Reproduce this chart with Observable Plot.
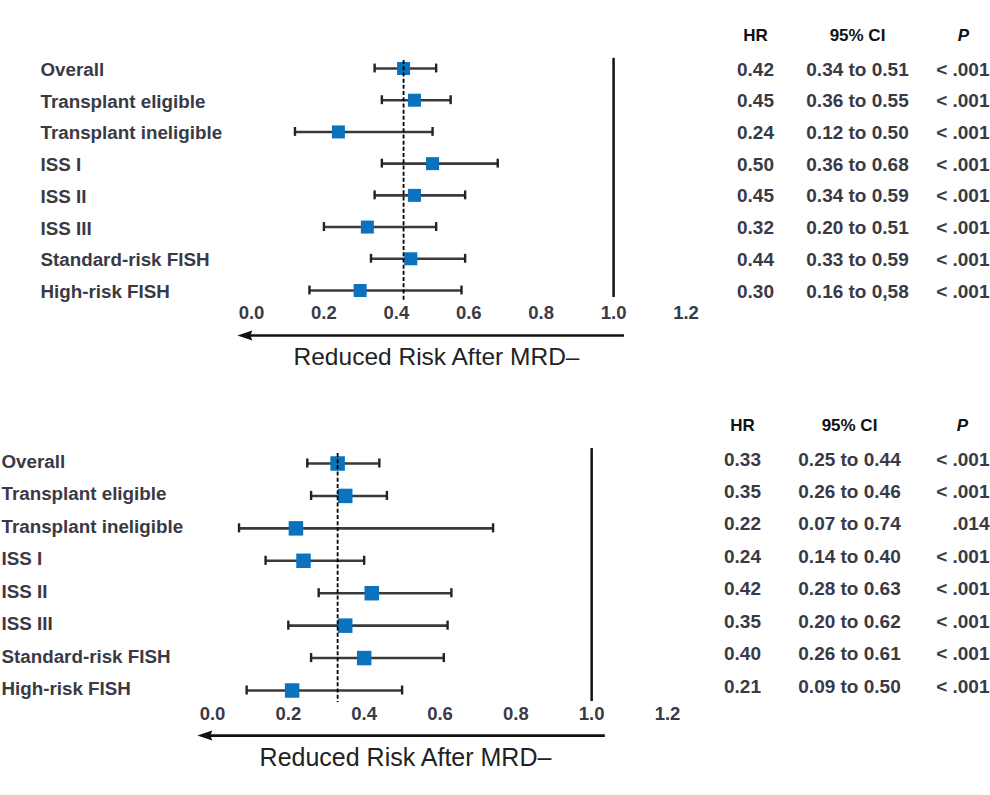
<!DOCTYPE html>
<html>
<head>
<meta charset="utf-8">
<script src="https://cdn.jsdelivr.net/npm/d3@7"></script>
<script src="https://cdn.jsdelivr.net/npm/@observablehq/plot@0.6"></script>
<style>
  html, body { margin: 0; padding: 0; background: #fff; width: 990px; height: 795px; overflow: hidden; }
  #wrap { position: relative; width: 990px; height: 795px; }
  #wrap > svg { position: absolute; left: 0; }
</style>
</head>
<body>
<div id="wrap"></div>
<script>
// ---------- DATA ----------
const categories = ["Overall", "Transplant eligible", "Transplant ineligible", "ISS I", "ISS II", "ISS III", "Standard-risk FISH", "High-risk FISH"];
const xTicks = [0.0, 0.2, 0.4, 0.6, 0.8, 1.0, 1.2];
const tableHeaders = ["HR", "95% CI", "P"];
const axisTitle = "Reduced Risk After MRD\u2013";

// Panel 1 (top)
const hrTop = [0.42, 0.45, 0.24, 0.50, 0.45, 0.32, 0.44, 0.30];
const loTop = [0.34, 0.36, 0.12, 0.36, 0.34, 0.20, 0.33, 0.16];
const hiTop = [0.51, 0.55, 0.50, 0.68, 0.59, 0.51, 0.59, 0.58];
const ciTop = ["0.34 to 0.51", "0.36 to 0.55", "0.12 to 0.50", "0.36 to 0.68", "0.34 to 0.59", "0.20 to 0.51", "0.33 to 0.59", "0.16 to 0,58"];
const pTop = ["< .001", "< .001", "< .001", "< .001", "< .001", "< .001", "< .001", "< .001"];
const overallTop = 0.42;

// Panel 2 (bottom)
const hrBot = [0.33, 0.35, 0.22, 0.24, 0.42, 0.35, 0.40, 0.21];
const loBot = [0.25, 0.26, 0.07, 0.14, 0.28, 0.20, 0.26, 0.09];
const hiBot = [0.44, 0.46, 0.74, 0.40, 0.63, 0.62, 0.61, 0.50];
const ciBot = ["0.25 to 0.44", "0.26 to 0.46", "0.07 to 0.74", "0.14 to 0.40", "0.28 to 0.63", "0.20 to 0.62", "0.26 to 0.61", "0.09 to 0.50"];
const pBot = ["< .001", "< .001", ".014", "< .001", "< .001", "< .001", "< .001", "< .001"];
const overallBot = 0.33;

// ---------- LAYOUT ----------
const FONT = "'Liberation Sans', Arial, Helvetica, sans-serif";
const TEXT = "#3a3a46";
const BLUE = "#0b73bd";

// filled left-pointing arrowhead, tip at the dot position
const arrowHead = {
  draw(context) {
    context.moveTo(0, 0);
    context.lineTo(15, -5);
    context.lineTo(13, 0);
    context.lineTo(15, 5);
    context.closePath();
  }
};

function forest(cfg) {
  const rows = categories.map((label, i) => ({
    i, label, hr: cfg.hr[i], lo: cfg.lo[i], hi: cfg.hi[i],
    hrText: d3.format(".2f")(cfg.hr[i]), ci: cfg.ci[i], p: cfg.p[i]
  }));
  const cap = cfg.cap;
  return Plot.plot({
    width: 990,
    height: cfg.height,
    marginTop: 0,
    marginRight: 0,
    marginBottom: cfg.marginBottom,
    marginLeft: cfg.marginLeft,
    style: { background: "transparent", fontFamily: FONT, color: TEXT, overflow: "visible" },
    x: { domain: [0, 1.2], range: cfg.xRange },
    y: { domain: [0, 7], range: cfg.yRange },
    marks: [
      Plot.ruleX([1], { y1: cfg.refY[0], y2: cfg.refY[1], stroke: "#111", strokeWidth: 2.5 }),
      Plot.ruleY(rows, { x1: "lo", x2: "hi", y: "i", stroke: "#3a3a3a", strokeWidth: 2.6 }),
      Plot.ruleX(rows, { x: "lo", y1: d => d.i - cap, y2: d => d.i + cap, stroke: "#222", strokeWidth: 2.4 }),
      Plot.ruleX(rows, { x: "hi", y1: d => d.i - cap, y2: d => d.i + cap, stroke: "#222", strokeWidth: 2.4 }),
      Plot.dot(rows, { x: "hr", y: "i", symbol: "square", r: cfg.sq / Math.sqrt(Math.PI), fill: BLUE, stroke: "none" }),
      Plot.ruleX([cfg.overall], { y1: cfg.dashY[0], y2: cfg.dashY[1], stroke: "#000", strokeWidth: 1.8, strokeDasharray: "4,2.2" }),
      Plot.axisY(d3.range(categories.length), {
        anchor: "left", tickSize: 0, tickPadding: cfg.labelPad, textAnchor: "start",
        tickFormat: i => categories[i], fontSize: 18.8, fontWeight: "bold", fill: TEXT, dy: cfg.labelDy, label: null
      }),
      Plot.axisX(xTicks, {
        anchor: "bottom", tickSize: 0, tickPadding: 3, tickFormat: d3.format(".1f"),
        fontSize: 18.5, fontWeight: "bold", fill: TEXT, label: null
      }),
      // arrow: shaft + filled head
      Plot.ruleY([cfg.arrowRow], { x1: cfg.arrow[0], x2: cfg.arrow[1] + cfg.headOff, stroke: "#111", strokeWidth: 2.6 }),
      Plot.dot([cfg.arrowRow], { x: cfg.arrow[1], y: d => d, symbol: arrowHead, r: 4, fill: "#111", stroke: "none" }),
      Plot.text([axisTitle], { x: cfg.titleX, y: cfg.titleRow, text: d => d, fontSize: cfg.titleSize, fontWeight: "normal", fill: "#222" }),
      Plot.text([tableHeaders[0]], { y: cfg.headerRow, text: d => d, frameAnchor: "right", dx: cfg.colHR, textAnchor: "middle", fontSize: 17, fontWeight: "bold", fill: "#111" }),
      Plot.text([tableHeaders[1]], { y: cfg.headerRow, text: d => d, frameAnchor: "right", dx: cfg.colCI, textAnchor: "middle", fontSize: 17, fontWeight: "bold", fill: "#111" }),
      Plot.text([tableHeaders[2]], { y: cfg.headerRow, text: d => d, frameAnchor: "right", dx: cfg.colPHead, textAnchor: "middle", fontSize: 17, fontWeight: "bold", fontStyle: "italic", fill: "#111" }),
      Plot.text(rows, { y: "i", text: "hrText", frameAnchor: "right", dx: cfg.colHR, dy: cfg.tableDy, textAnchor: "middle", fontSize: 19, fontWeight: "bold", fill: TEXT }),
      Plot.text(rows, { y: "i", text: "ci", frameAnchor: "right", dx: cfg.colCI, dy: cfg.tableDy, textAnchor: "middle", fontSize: 19, fontWeight: "bold", fill: TEXT }),
      Plot.text(rows, { y: "i", text: "p", frameAnchor: "right", dx: cfg.colP, dy: cfg.tableDy, textAnchor: "end", fontSize: 19, fontWeight: "bold", fill: TEXT })
    ]
  });
}

const topPanel = forest({
  hr: hrTop, lo: loTop, hi: hiTop, ci: ciTop, p: pTop, overall: overallTop,
  height: 395, marginBottom: 92.4, marginLeft: 40, labelPad: 0, labelDy: 1.5,
  xRange: [251, 685.5], yRange: [68, 290],
  refY: [-0.32, 7.22], dashY: [-0.25, 7.32], cap: 0.14, sq: 13,
  arrow: [1.03, -0.039], arrowRow: 8.42, headOff: 0.03,
  titleX: 0.511, titleRow: 9.11, titleSize: 24.5,
  headerRow: -1.04, colHR: -235, colCI: -133, colPHead: -27, colP: -1, tableDy: 1
});
topPanel.style.top = "0px";

const bottomPanel = forest({
  hr: hrBot, lo: loBot, hi: hiBot, ci: ciBot, p: pBot, overall: overallBot,
  height: 400, marginBottom: 91.4, marginLeft: 1, labelPad: 0, labelDy: -1.5,
  xRange: [212, 667], yRange: [68, 295],
  refY: [-0.46, 7.34], dashY: [-0.31, 7.37], cap: 0.14, sq: 14.5,
  arrow: [1.036, -0.04], arrowRow: 8.39, headOff: 0.03,
  titleX: 0.509, titleRow: 9.07, titleSize: 25,
  headerRow: -1.17, colHR: -248, colCI: -141, colPHead: -28, colP: -1, tableDy: -4
});
bottomPanel.style.top = "395px";

const wrap = document.getElementById("wrap");
wrap.appendChild(topPanel);
wrap.appendChild(bottomPanel);
</script>
</body>
</html>
